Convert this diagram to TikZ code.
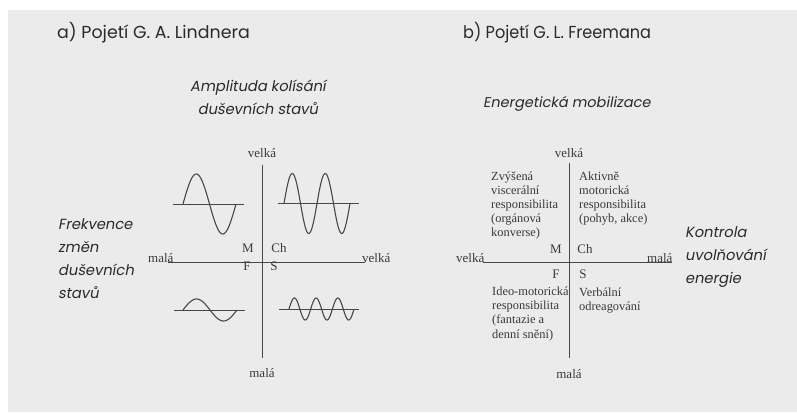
\documentclass[tikz,border=0pt]{standalone}
\usepackage{fontspec}
\setmainfont{Liberation Serif}
\newfontfamily\fut{Poppins}
\newfontfamily\futn[FakeStretch=0.926]{Poppins}
\newfontfamily\futit[FakeSlant=0.18]{Poppins}
\newfontfamily\futitw[FakeSlant=0.18,FakeStretch=1.02]{Poppins}
\definecolor{bg}{HTML}{EBEBEB}
\definecolor{ink}{HTML}{2A2A2A}
\definecolor{serifink}{HTML}{3A3A3A}
\definecolor{lineink}{HTML}{474747}
\tikzset{
  title/.style={anchor=base west,inner sep=0,text=ink,font=\fut\fontsize{17.4}{20}\selectfont},
  axlabel/.style={inner sep=0,text=ink,font=\futit\fontsize{14.7}{23}\selectfont,align=left},
  srf/.style={inner sep=0,text=serifink,font=\fontsize{13}{15}\selectfont},
  blk/.style={anchor=base west,inner sep=0,text=serifink,font=\fontsize{12.4}{14.1}\selectfont,align=left},
  axis/.style={draw=lineink,line width=0.9pt},
  wave/.style={draw=lineink,line width=1.1pt,line join=round},
  base/.style={draw=lineink,line width=0.9pt}
}
\begin{document}
\begin{tikzpicture}[x=1pt,y=-1pt]
\fill[white] (0,0) rectangle (797,412);
\fill[bg] (8,10) rectangle (797,412);
\useasboundingbox (0,0) rectangle (797,412);

% ---------- a) Lindner ----------
\node[title] (ta) at (57,38.5) {a) Pojetí G. A. Lindnera};
\node[axlabel,anchor=base,align=center] (amp) at (258,114) {Amplituda kolísání\\duševních stavů};
\node[axlabel,anchor=base west] (frek) at (58,298) {Frekvence\\změn\\duševních\\stavů};

\node[srf,anchor=base] (av) at (262,157) {velká};
\node[srf,anchor=base] (am) at (262,377) {malá};
\node[srf,anchor=base west] (aml) at (148,262) {malá};
\node[srf,anchor=base west] (avr) at (362,262) {velká};
\node[srf,anchor=base] (aM) at (248,252.7) {M};
\node[srf,anchor=base] (aCh) at (279,252.7) {Ch};
\node[srf,anchor=base] (aF) at (247,270.7) {F};
\node[srf,anchor=base] (aS) at (274,270.7) {S};

\coordinate (avt) at (262,165);
\coordinate (avb) at (262,358);
\coordinate (ahl) at (168,262.5);
\coordinate (ahr) at (365,262.5);
\draw[axis] (avt) -- (avb);
\draw[axis] (ahl) -- (ahr);

% waves
\draw[base] (173,204) -- (244,204);
\draw[wave] plot[domain=0:1,samples=80,smooth] ({183+53*\x},{204-30*sin(360*\x)});
\draw[base] (278,203.5) -- (359,203.5);
\draw[wave] plot[domain=0:2,samples=120,smooth] ({284+33*\x},{203.5-30*sin(360*\x)});
\draw[base] (174,310) -- (245,310);
\draw[wave] plot[domain=0:1,samples=80,smooth] ({183+54*\x},{310-11*sin(360*\x)});
\draw[base] (279,309) -- (359,309);
\draw[wave] plot[domain=0:3,samples=150,smooth] ({289+21.7*\x},{309-11*sin(360*\x)});

% ---------- b) Freeman ----------
\node[title,font=\futn\fontsize{17.4}{20}\selectfont] (tb) at (463,38.5) {b) Pojetí G. L. Freemana};
\node[axlabel,anchor=base west,font=\futitw\fontsize{14.2}{23}\selectfont] (energ) at (483,107) {Energetická mobilizace};
\node[axlabel,anchor=base west] (kontr) at (685,283) {Kontrola\\uvolňování\\energie};

\node[srf,anchor=base] (bv) at (569,157) {velká};
\node[srf,anchor=base] (bm) at (569,378) {malá};
\node[srf,anchor=base west] (bvl) at (456,262) {velká};
\node[srf,anchor=base west] (bmr) at (647,262) {malá};
\node[srf,anchor=base] (bM) at (556,253) {M};
\node[srf,anchor=base] (bCh) at (585,253) {Ch};
\node[srf,anchor=base] (bF) at (556,278) {F};
\node[srf,anchor=base] (bS) at (583,278) {S};

\coordinate (bvt) at (569,163);
\coordinate (bvb) at (569,358);
\coordinate (bhl) at (483,262.5);
\coordinate (bhr) at (672,262.5);
\draw[axis] (bvt) -- (bvb);
\draw[axis] (bhl) -- (bhr);

\node[blk] (q1) at (491,236.7) {Zvýšená\\viscerální\\responsibilita\\(orgánová\\konverse)};
\node[blk] (q2) at (579,222.6) {Aktivně\\motorická\\responsibilita\\(pohyb, akce)};
\node[blk] (q3) at (492,338) {Ideo-motorická\\responsibilita\\(fantazie a\\denní snění)};
\node[blk] (q4) at (579,310.8) {Verbální\\odreagování};
\end{tikzpicture}
\end{document}
